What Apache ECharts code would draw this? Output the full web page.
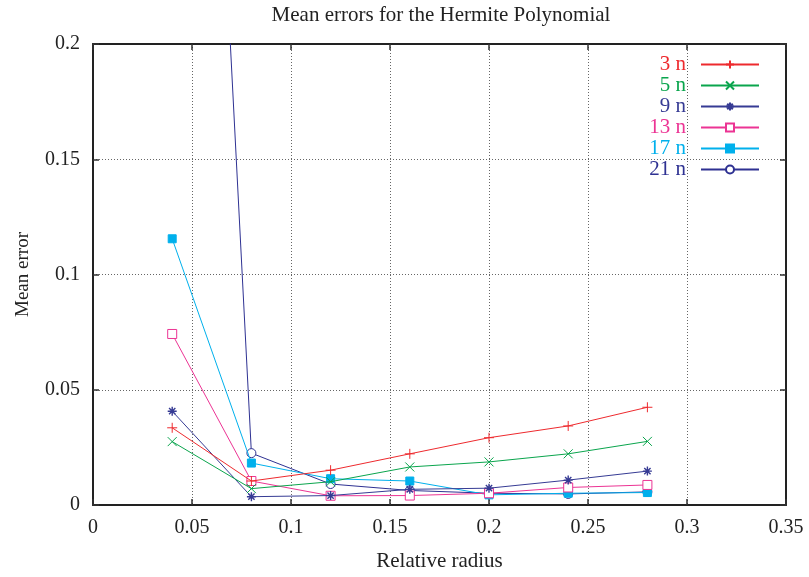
<!DOCTYPE html>
<html><head><meta charset="utf-8">
<script src="https://cdn.jsdelivr.net/npm/echarts@6/dist/echarts.min.js"></script>
<style>html,body{margin:0;padding:0;background:#fff}#c{width:809px;height:577px}</style>
</head><body><div id="c"></div>
<script>
const radius = [0.04, 0.08, 0.12, 0.16, 0.2, 0.24, 0.28];
const names = ['3 n', '5 n', '9 n', '13 n', '17 n', '21 n'];
const err3  = [0.0335, 0.0104, 0.0151, 0.0222, 0.0292, 0.0343, 0.0424];
const err5  = [0.0275, 0.0071, 0.0101, 0.0165, 0.0187, 0.0222, 0.0276];
const err9  = [0.0407, 0.0036, 0.0041, 0.0068, 0.0073, 0.0108, 0.0147];
const err13 = [0.0742, 0.0104, 0.0040, 0.0041, 0.0051, 0.0076, 0.0087];
const err17 = [0.1155, 0.0182, 0.0114, 0.0104, 0.0044, 0.0051, 0.0054];
const err21 = [0.69, 0.0225, 0.0091, 0.0063, 0.0051, 0.0048, 0.0057];
const colors = ['#ee2a2e', '#0aa54d', '#363b94', '#ec3494', '#00b0ec', '#2e3192'];

const F = 'Liberation Serif, Times New Roman, serif';
const PLUS = 'path://M0,5L10,5M5,0L5,10';
const CROSS = 'path://M0,0L10,10M0,10L10,0';
const STAR = 'path://M0,5L10,5M5,0L5,10M1.5,1.5L8.5,8.5M1.5,8.5L8.5,1.5';
const sets = [err3, err5, err9, err13, err17, err21];
const symbols = [PLUS, CROSS, STAR, 'rect', 'rect', 'circle'];
const sizes = [10, 9, 9, 9, 8, 9];
const fills = [colors[0], colors[1], colors[2], '#fff', colors[4], '#fff'];

const series = sets.map((d, i) => ({
  name: names[i], type: 'line', xAxisIndex: 0, yAxisIndex: 0,
  data: radius.map((x, j) => [x, d[j]]),
  symbol: symbols[i], symbolSize: sizes[i], showSymbol: true,
  lineStyle: { color: colors[i], width: 1 },
  itemStyle: { color: fills[i], borderColor: colors[i], borderWidth: i === 2 ? 1.4 : 1 },
  clip: true, animation: false, z: 10 - i
}));

const tickStyle = { show: true, inside: true, length: 6, lineStyle: { color: '#333', width: 1.5 } };
const lineSt = { show: true, onZero: false, lineStyle: { color: '#222', width: 2 } };
const gridSt = { show: true, lineStyle: { color: '#666', type: [1, 2], width: 1 } };

const chart = echarts.init(document.getElementById('c'), null, { renderer: 'canvas' });
chart.setOption({
  backgroundColor: '#fff',
  animation: false,
  title: { text: 'Mean errors for the Hermite Polynomial', left: 436, textAlign: 'center', top: 0,
    textStyle: { fontFamily: F, fontWeight: 'normal', fontSize: 21, color: '#222' } },
  grid: { left: 93, right: 23, top: 44, bottom: 65 },
  legend: {
    right: 49, top: 54, padding: 0, orient: 'vertical', align: 'right', itemWidth: 58, itemHeight: 10, itemGap: 0,
    textStyle: { fontFamily: F, fontSize: 21, lineHeight: 21, padding: [0, 10, 0, 0] },
    data: names.map((n, i) => ({ name: n, textStyle: { color: colors[i] } }))
  },
  xAxis: [
    { type: 'value', min: 0, max: 0.35, interval: 0.05, position: 'bottom',
      name: 'Relative radius', nameLocation: 'middle', nameGap: 46,
      nameTextStyle: { fontFamily: F, fontSize: 21, color: '#222' },
      axisLine: lineSt, axisTick: tickStyle,
      axisLabel: { fontFamily: F, fontSize: 20, color: '#222', margin: 13 },
      splitLine: gridSt },
    { type: 'value', min: 0, max: 0.35, interval: 0.05, position: 'top',
      axisLine: lineSt, axisTick: tickStyle,
      axisLabel: { show: false }, splitLine: { show: false } }
  ],
  yAxis: [
    { type: 'value', min: 0, max: 0.2, interval: 0.05, position: 'left',
      name: 'Mean error', nameLocation: 'middle', nameGap: 60, nameRotate: 90,
      nameTextStyle: { fontFamily: F, fontSize: 19, color: '#222' },
      axisLine: lineSt, axisTick: tickStyle,
      axisLabel: { fontFamily: F, fontSize: 20, color: '#222', margin: 13 },
      splitLine: gridSt },
    { type: 'value', min: 0, max: 0.2, interval: 0.05, position: 'right',
      axisLine: lineSt, axisTick: tickStyle,
      axisLabel: { show: false }, splitLine: { show: false } }
  ],
  series: series
});
</script></body></html>
